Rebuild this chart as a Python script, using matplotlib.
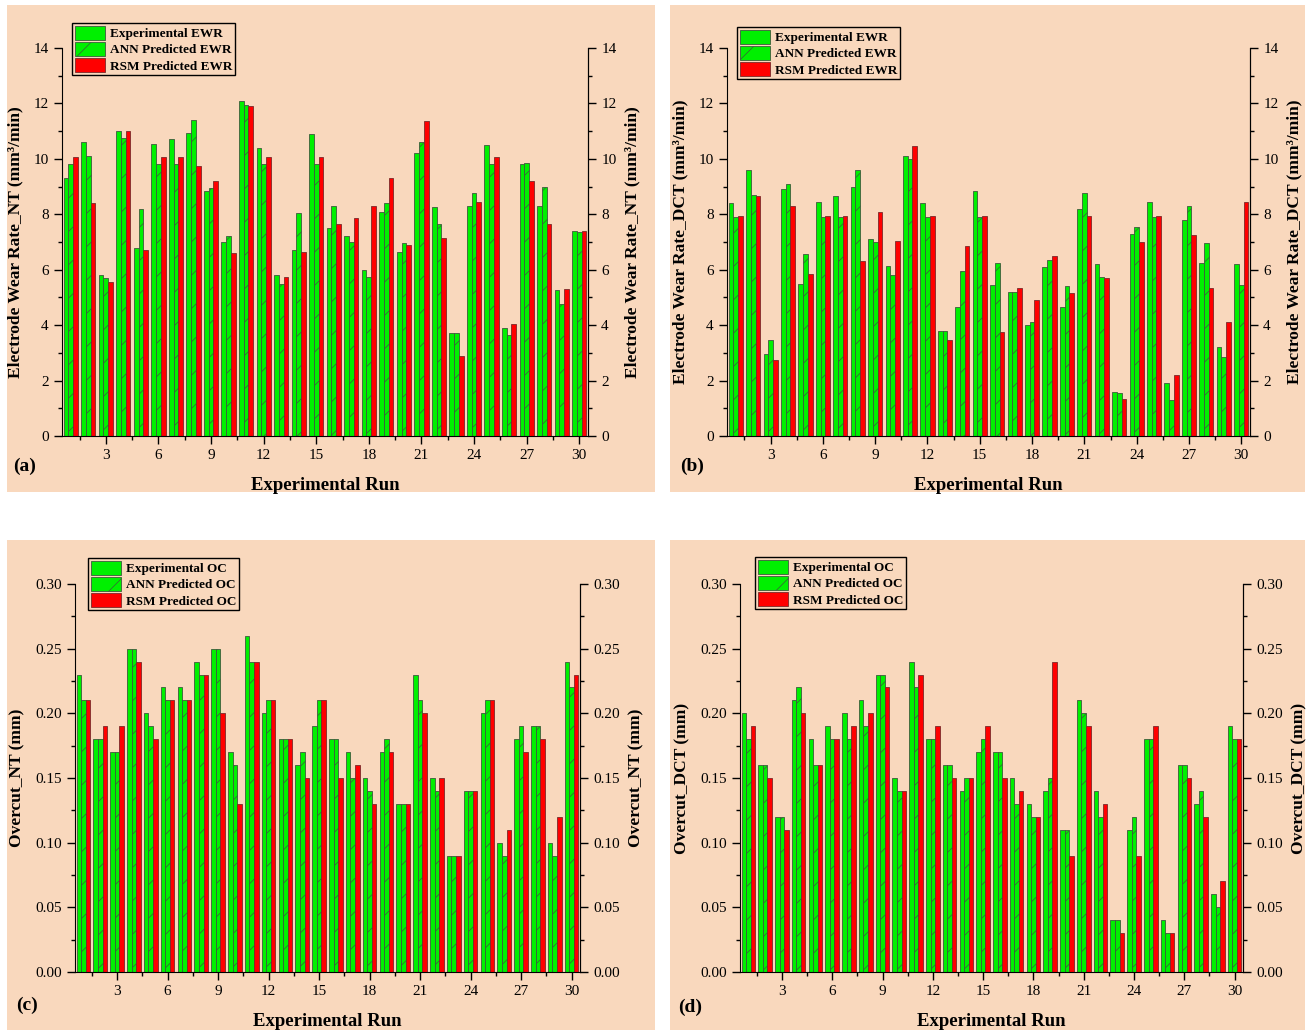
import numpy as np
import matplotlib.pyplot as plt
from matplotlib.patches import Rectangle
from matplotlib.ticker import MultipleLocator

plt.rcParams['font.family'] = ['Liberation Serif', 'DejaVu Serif']
plt.rcParams['hatch.linewidth'] = 0.5

runs = np.arange(1, 31)

ewr_nt_exp = [9.3, 10.6, 5.8, 11.0, 6.8, 10.55, 10.7, 10.95, 8.85, 7.0, 12.1, 10.4, 5.8, 6.7, 10.9,
              7.5, 7.2, 6.0, 8.1, 6.65, 10.2, 8.25, 3.7, 8.3, 10.5, 3.9, 9.8, 8.3, 5.25, 7.4]
ewr_nt_ann = [9.8, 10.1, 5.7, 10.75, 8.2, 9.8, 9.8, 11.4, 8.95, 7.2, 11.95, 9.8, 5.5, 8.05, 9.8,
              8.3, 7.0, 5.75, 8.4, 6.95, 10.6, 7.65, 3.7, 8.75, 9.8, 3.65, 9.85, 9.0, 4.75, 7.35]
ewr_nt_rsm = [10.05, 8.4, 5.55, 11.0, 6.7, 10.05, 10.05, 9.75, 9.2, 6.6, 11.9, 10.05, 5.75, 6.65, 10.05,
              7.65, 7.85, 8.3, 9.3, 6.9, 11.35, 7.15, 2.9, 8.45, 10.05, 4.05, 9.2, 7.65, 5.3, 7.4]

ewr_dct_exp = [8.4, 9.6, 2.97, 8.9, 5.5, 8.45, 8.65, 9.0, 7.1, 6.15, 10.1, 8.4, 3.8, 4.65, 8.85,
               5.45, 5.2, 4.0, 6.1, 4.65, 8.2, 6.2, 1.6, 7.3, 8.45, 1.9, 7.8, 6.25, 3.2, 6.2]
ewr_dct_ann = [7.9, 8.7, 3.47, 9.1, 6.55, 7.9, 7.9, 9.6, 7.0, 5.8, 10.0, 7.9, 3.8, 5.95, 7.9,
               6.25, 5.2, 4.1, 6.35, 5.4, 8.75, 5.75, 1.55, 7.55, 7.9, 1.3, 8.3, 6.95, 2.85, 5.45]
ewr_dct_rsm = [7.95, 8.65, 2.73, 8.3, 5.85, 7.95, 7.95, 6.3, 8.1, 7.05, 10.45, 7.95, 3.45, 6.85, 7.95,
               3.75, 5.35, 4.9, 6.5, 5.15, 7.95, 5.7, 1.35, 7.0, 7.95, 2.2, 7.25, 5.35, 4.1, 8.45]

oc_nt_exp = [0.23, 0.18, 0.17, 0.25, 0.20, 0.22, 0.22, 0.24, 0.25, 0.17, 0.26, 0.20, 0.18, 0.16, 0.19,
             0.18, 0.17, 0.15, 0.17, 0.13, 0.23, 0.15, 0.09, 0.14, 0.20, 0.10, 0.18, 0.19, 0.10, 0.24]
oc_nt_ann = [0.21, 0.18, 0.17, 0.25, 0.19, 0.21, 0.21, 0.23, 0.25, 0.16, 0.24, 0.21, 0.18, 0.17, 0.21,
             0.18, 0.15, 0.14, 0.18, 0.13, 0.21, 0.14, 0.09, 0.14, 0.21, 0.09, 0.19, 0.19, 0.09, 0.22]
oc_nt_rsm = [0.21, 0.19, 0.19, 0.24, 0.18, 0.21, 0.21, 0.23, 0.20, 0.13, 0.24, 0.21, 0.18, 0.15, 0.21,
             0.15, 0.16, 0.13, 0.17, 0.13, 0.20, 0.15, 0.09, 0.14, 0.21, 0.11, 0.17, 0.18, 0.12, 0.23]

oc_dct_exp = [0.20, 0.16, 0.12, 0.21, 0.18, 0.19, 0.20, 0.21, 0.23, 0.15, 0.24, 0.18, 0.16, 0.14, 0.17,
              0.17, 0.15, 0.13, 0.14, 0.11, 0.21, 0.14, 0.04, 0.11, 0.18, 0.04, 0.16, 0.13, 0.06, 0.19]
oc_dct_ann = [0.18, 0.16, 0.12, 0.22, 0.16, 0.18, 0.18, 0.19, 0.23, 0.14, 0.22, 0.18, 0.16, 0.15, 0.18,
              0.17, 0.13, 0.12, 0.15, 0.11, 0.20, 0.12, 0.04, 0.12, 0.18, 0.03, 0.16, 0.14, 0.05, 0.18]
oc_dct_rsm = [0.19, 0.15, 0.11, 0.20, 0.16, 0.18, 0.19, 0.20, 0.22, 0.14, 0.23, 0.19, 0.15, 0.15, 0.19,
              0.15, 0.14, 0.12, 0.24, 0.09, 0.19, 0.13, 0.03, 0.09, 0.19, 0.03, 0.15, 0.12, 0.07, 0.18]

BG = '#F9D8BD'
GREEN = '#00F000'
RED = '#FF0000'
W, H = 1309, 1033

fig = plt.figure(figsize=(W / 100, H / 100), dpi=100)

# peach panel boxes (pixels: x0, y0, x1, y1)
for x0, y0, x1, y1 in [(7, 5, 655, 492), (670, 5, 1305, 492), (7, 540, 655, 1030), (670, 540, 1305, 1030)]:
    fig.patches.append(Rectangle((x0 / W, 1 - y1 / H), (x1 - x0) / W, (y1 - y0) / H,
                                 transform=fig.transFigure, facecolor=BG, edgecolor='none', zorder=-5))


def panel(box, exp, ann, rsm, ylabel, short, ymax, major, minor, fmt, legpos, tag, tagpos):
    x0, y0, x1, y1 = box
    ax = fig.add_axes([x0 / W, 1 - y1 / H, (x1 - x0) / W, (y1 - y0) / H])
    ax.set_facecolor('none')
    bw = 0.27
    ax.bar(runs - bw, exp, bw, color=GREEN, edgecolor='#3c5a3c', linewidth=0.6, label='Experimental ' + short)
    ax.bar(runs, ann, bw, color=GREEN, edgecolor='#3c5a3c', linewidth=0.6, hatch='/',
           label='ANN Predicted ' + short)
    ax.bar(runs + bw, rsm, bw, color=RED, edgecolor='#7a2a2a', linewidth=0.6, label='RSM Predicted ' + short)
    ax.set_xlim(0.5, 30.5)
    ax.set_ylim(0, ymax)
    ax.set_xticks(np.arange(3, 31, 3))
    ax.xaxis.set_minor_locator(MultipleLocator(1.5))
    ax.yaxis.set_major_locator(MultipleLocator(major))
    ax.yaxis.set_minor_locator(MultipleLocator(minor))
    ax.yaxis.set_major_formatter(fmt)
    ax.spines['top'].set_visible(False)
    ax.tick_params(which='both', direction='out', labelsize=11, width=1)
    ax.tick_params(which='major', length=6)
    ax.tick_params(which='minor', length=3)
    ax.set_ylabel(ylabel, fontsize=12.5, fontweight='bold', labelpad=7)
    ax.set_xlabel('Experimental Run', fontsize=13.5, fontweight='bold', labelpad=11)
    sec = ax.secondary_yaxis('right')
    sec.yaxis.set_major_locator(MultipleLocator(major))
    sec.yaxis.set_minor_locator(MultipleLocator(minor))
    sec.yaxis.set_major_formatter(fmt)
    sec.tick_params(which='both', direction='out', labelsize=11, width=1)
    sec.tick_params(which='major', length=6)
    sec.tick_params(which='minor', length=3)
    sec.set_ylabel(ylabel, fontsize=12.5, fontweight='bold', rotation=90, labelpad=6)
    lx, ly = legpos
    leg = ax.legend(loc='upper left', bbox_to_anchor=((lx - x0) / (x1 - x0), (y1 - ly) / (y1 - y0)),
                    borderaxespad=0, fancybox=False, edgecolor='black', framealpha=1, facecolor=BG,
                    prop={'weight': 'bold', 'size': 9.5}, handlelength=2.3, handleheight=1.3,
                    borderpad=0.2, labelspacing=0.12, handletextpad=0.4)
    leg.get_frame().set_linewidth(1.0)
    fig.text(tagpos[0] / W, 1 - tagpos[1] / H, tag, fontsize=14, fontweight='bold', ha='center', va='center')
    return ax


panel((62, 48, 588, 436), ewr_nt_exp, ewr_nt_ann, ewr_nt_rsm,
      'Electrode Wear Rate_NT (mm³/min)', 'EWR', 14, 2, 1, '{x:.0f}', (72, 23), '(a)', (25, 466))
panel((727, 48, 1250, 436), ewr_dct_exp, ewr_dct_ann, ewr_dct_rsm,
      'Electrode Wear Rate_DCT (mm³/min)', 'EWR', 14, 2, 1, '{x:.0f}', (737, 27), '(b)', (692, 466))
panel((75, 584, 580, 972), oc_nt_exp, oc_nt_ann, oc_nt_rsm,
      'Overcut_NT (mm)', 'OC', 0.30, 0.05, 0.025, '{x:.2f}', (88, 558), '(c)', (27, 1005))
panel((740, 584, 1243, 972), oc_dct_exp, oc_dct_ann, oc_dct_rsm,
      'Overcut_DCT (mm)', 'OC', 0.30, 0.05, 0.025, '{x:.2f}', (755, 557), '(d)', (690, 1007))

fig.savefig('out.png', dpi=100)
